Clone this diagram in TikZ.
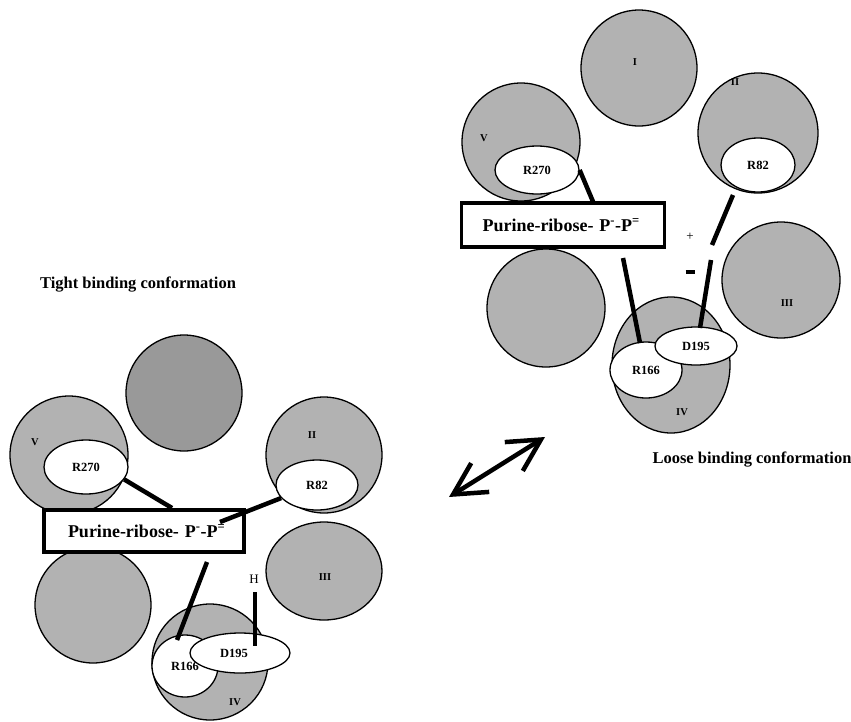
\documentclass[tikz,border=0pt]{standalone}
\usepackage{fontspec}
\setmainfont{Liberation Serif}
\usetikzlibrary{shapes.geometric,arrows.meta}
\definecolor{cfill}{gray}{0.70}
\definecolor{cdark}{gray}{0.60}
\tikzset{
  dom/.style={draw=black, line width=1.3pt, fill=cfill, ellipse, inner sep=0pt},
  domdark/.style={dom, fill=cdark},
  res/.style={draw=black, line width=1.3pt, fill=white, ellipse, inner sep=0pt,
    font=\fontsize{12.5}{12.5}\selectfont\bfseries},
  lab/.style={inner sep=0pt, font=\fontsize{10.5}{10.5}\selectfont\bfseries},
  sub/.style={draw=black, line width=3.2pt, fill=white, inner sep=0pt,
    font=\fontsize{18}{18}\selectfont\bfseries},
  title/.style={inner sep=0pt, font=\fontsize{16.5}{16.5}\selectfont\bfseries},
  bond/.style={line width=4.5pt},
}
\begin{document}
\begin{tikzpicture}[x=1pt,y=-1pt]
\useasboundingbox (0,0) rectangle (851,721);

% ---------------- tight binding (left) ----------------
\node[title] (tight) at (138,285) {Tight binding conformation};
\node[domdark, minimum width=116pt, minimum height=116pt] (Ltop) at (184,393) {};
\node[dom, minimum width=118pt, minimum height=118pt] (LV) at (69,455) {};
\node[lab] (LVl) at (35,442) {V};
\node[res, minimum width=84pt, minimum height=54pt] (LR270) at (86,467) {R270};
\node[dom, minimum width=116pt, minimum height=116pt] (LII) at (324,455) {};
\node[lab] (LIIl) at (312,435) {II};
\node[res, minimum width=82pt, minimum height=50pt] (LR82) at (317,485) {R82};
\node[dom, minimum width=116pt, minimum height=98pt] (LIII) at (324,571) {};
\node[lab] (LIIIl) at (325,577) {III};
\node[dom, minimum width=116pt, minimum height=116pt] (LBL) at (93,605) {};
\node[dom, minimum width=116pt, minimum height=116pt] (LIV) at (210,662) {};
\node[lab] (LIVl) at (235,702) {IV};
\node[res, minimum width=66pt, minimum height=62pt] (LR166) at (185,666) {\raisebox{-4pt}{R166}};
\node[res, minimum width=100pt, minimum height=40pt] (LD195) at (240,653) {\hspace*{-12pt}D195};
\node[sub, minimum width=200pt, minimum height=42pt, text width=200pt, align=left] (Lbox) at (144,531)
  {\hspace*{24pt}Purine-ribose- P\textsuperscript{-}-P\textsuperscript{=}};
\node[lab, font=\fontsize{13}{13}\selectfont] (LH) at (254,579) {H};

\coordinate (Lb1) at (172,508);
\coordinate (Lb2) at (220,522);
\coordinate (Lb3) at (207,562);
\coordinate (LR166t) at (177,640);
\coordinate (LHt) at (255,592);
\coordinate (LHb) at (255,646);
\draw[bond] (LR270.-18) -- (Lb1);
\draw[bond] (LR82.200) -- (Lb2);
\draw[bond] (Lb3) -- (LR166t);
\draw[bond] (LHt) -- (LHb);

% ---------------- double arrow ----------------
\coordinate (aL) at (449,497);
\coordinate (aR) at (545,437);
\draw[line width=4.5pt, {Straight Barb[length=32pt,width=34pt]}-{Straight Barb[length=32pt,width=34pt]}] (aL) -- (aR);

% ---------------- loose binding (right) ----------------
\node[dom, minimum width=116pt, minimum height=116pt] (RI) at (639,68) {};
\node[lab] (RIl) at (635,62) {I};
\node[dom, minimum width=118pt, minimum height=118pt] (RV) at (521,142) {};
\node[lab] (RVl) at (484,138) {V};
\node[res, minimum width=84pt, minimum height=48pt] (RR270) at (537,170) {R270};
\node[dom, minimum width=120pt, minimum height=120pt] (RII) at (758,133) {};
\node[lab] (RIIl) at (735,82) {II};
\node[res, minimum width=74pt, minimum height=54pt] (RR82) at (758,165) {R82};
\node[dom, minimum width=118pt, minimum height=116pt] (RIII) at (781,280) {};
\node[lab] (RIIIl) at (787,303) {III};
\node[dom, minimum width=118pt, minimum height=118pt] (RBL) at (546,308) {};
\node[dom, minimum width=118pt, minimum height=136pt] (RIV) at (671,365) {};
\node[lab] (RIVl) at (682,412) {IV};
\node[res, minimum width=72pt, minimum height=56pt] (RR166) at (646,370) {R166};
\node[res, minimum width=82pt, minimum height=38pt] (RD195) at (696,346) {D195};
\node[sub, minimum width=203pt, minimum height=44pt, text width=203pt, align=left] (Rbox) at (563,225)
  {\hspace*{21pt}Purine-ribose- P\textsuperscript{-}-P\textsuperscript{=}};
\node[lab, font=\fontsize{13}{13}\selectfont] (plus) at (690,237) {+};
\node[inner sep=0pt] (minus) at (690,272) {\rule{9pt}{3.5pt}};
\node[title] (loose) at (752,460) {Loose binding conformation};

\coordinate (Rb1) at (594,204);
\coordinate (Rb3) at (623,258);
\coordinate (RR166t) at (640,343);
\coordinate (RR82b) at (733,195);
\coordinate (Rm1) at (712,245);
\coordinate (Rm2) at (711,260);
\coordinate (RD195t) at (700,328);
\draw[bond] (RR270.east) -- (Rb1);
\draw[bond] (Rb3) -- (RR166t);
\draw[bond] (RR82b) -- (Rm1);
\draw[bond] (Rm2) -- (RD195t);
\end{tikzpicture}
\end{document}
